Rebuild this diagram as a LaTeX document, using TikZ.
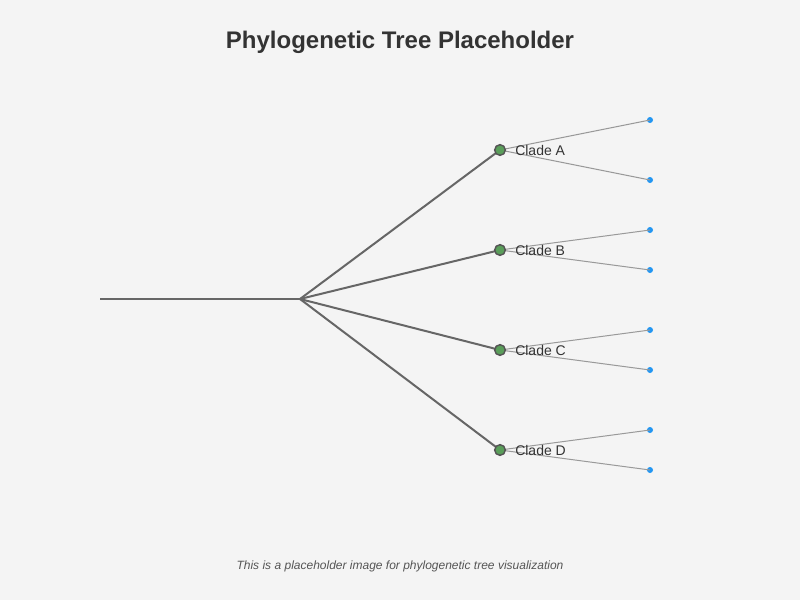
\documentclass[tikz,border=0pt]{standalone}
\usepackage{fontspec}
\setmainfont{Liberation Sans}
\usetikzlibrary{positioning}
\definecolor{bgc}{HTML}{F4F4F4}
\definecolor{txt}{HTML}{333333}
\definecolor{capc}{HTML}{555555}
\definecolor{branchc}{HTML}{666666}
\definecolor{leafc}{HTML}{999999}
\definecolor{cladefill}{HTML}{5A9E5A}
\definecolor{dotc}{HTML}{2196F3}
\begin{document}
\begin{tikzpicture}[
  x=0.75pt, y=-0.75pt,
  clade/.style={circle, draw=capc, line width=1.1pt, fill=cladefill, minimum size=8pt, inner sep=0pt},
  leaf/.style={circle, fill=dotc, minimum size=4.5pt, inner sep=0pt},
  branch/.style={draw=branchc, line width=1.5pt},
  twig/.style={draw=leafc, line width=0.75pt},
  lbl/.style={font=\fontsize{10.5}{12}\selectfont, text=txt, anchor=west, inner sep=0pt}]
\fill[bgc] (0,0) rectangle (800,600);
\useasboundingbox (0,0) rectangle (800,600);
\node[font=\fontsize{18}{22}\selectfont\bfseries, text=txt] (title) at (400,42) {Phylogenetic Tree Placeholder};
\node[font=\fontsize{9}{11}\selectfont\itshape, text=capc] (note) at (400,566) {This is a placeholder image for phylogenetic tree visualization};
\coordinate (base) at (100,299);
\coordinate (root) at (300,299);
\coordinate (ca) at (500,150); \coordinate (cb) at (500,250);
\coordinate (cc) at (500,350); \coordinate (cd) at (500,450);
\node[leaf] (a1) at (650,120) {}; \node[leaf] (a2) at (650,180) {};
\node[leaf] (b1) at (650,230) {}; \node[leaf] (b2) at (650,270) {};
\node[leaf] (c1) at (650,330) {}; \node[leaf] (c2) at (650,370) {};
\node[leaf] (d1) at (650,430) {}; \node[leaf] (d2) at (650,470) {};
% branches
\draw[branch] (base) -- (root);
\draw[branch] (root) -- (ca); \draw[branch] (root) -- (cb);
\draw[branch] (root) -- (cc); \draw[branch] (root) -- (cd);
\draw[twig] (ca) -- (a1.center); \draw[twig] (ca) -- (a2.center);
\draw[twig] (cb) -- (b1.center); \draw[twig] (cb) -- (b2.center);
\draw[twig] (cc) -- (c1.center); \draw[twig] (cc) -- (c2.center);
\draw[twig] (cd) -- (d1.center); \draw[twig] (cd) -- (d2.center);
% clade nodes
\node[clade] (nA) at (ca) {}; \node[clade] (nB) at (cb) {};
\node[clade] (nC) at (cc) {}; \node[clade] (nD) at (cd) {};
\node[lbl] (lA) at (515,150) {Clade A};
\node[lbl] (lB) at (515,250) {Clade B};
\node[lbl] (lC) at (515,350) {Clade C};
\node[lbl] (lD) at (515,450) {Clade D};
\end{tikzpicture}
\end{document}
